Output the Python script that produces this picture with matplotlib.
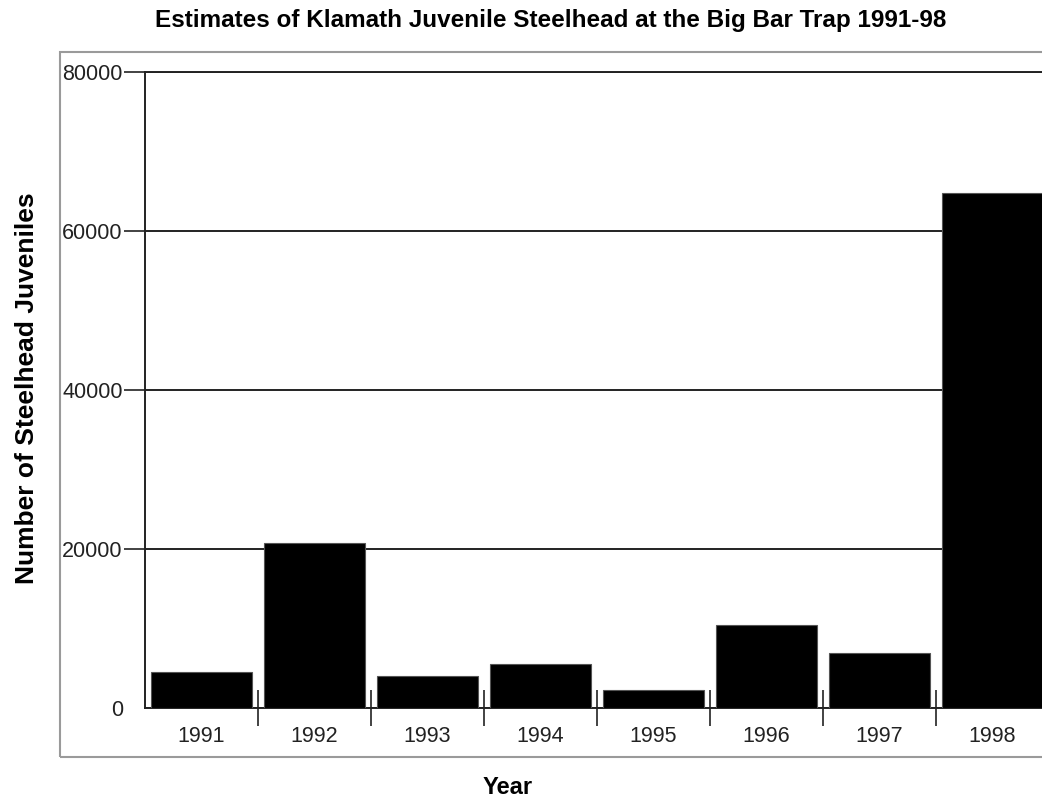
import numpy as np
import matplotlib.pyplot as plt
from matplotlib.patches import Rectangle

years = ['1991', '1992', '1993', '1994', '1995', '1996', '1997', '1998']
counts = [4500, 20800, 4000, 5500, 2300, 10500, 6900, 64800]

plt.rcParams['font.family'] = ['Liberation Sans', 'DejaVu Sans']

W, H = 1042, 801
fig = plt.figure(figsize=(W / 100, H / 100), dpi=100)

# gray outer frame (runs off the right edge like the original)
fig.patches.append(Rectangle((60 / W, 1 - 757 / H), 1.0, (757 - 52) / H,
                             transform=fig.transFigure, fill=False,
                             edgecolor='#9a9a9a', linewidth=1.5))

ax = fig.add_axes([145 / W, 1 - 708 / H, (1049 - 145) / W, (708 - 72) / H])

x = np.arange(len(years)) + 0.5
ax.bar(x, counts, width=0.885, color='black', edgecolor='#555555', linewidth=0.8, zorder=3)

ax.set_xlim(0, len(years))
ax.set_ylim(0, 80000)
ax.set_yticks([0, 20000, 40000, 60000, 80000])
ax.set_yticklabels(['0', '20000', '40000', '60000', '80000'])
ax.yaxis.grid(True, color='#222222', linewidth=1.4, zorder=1)

ax.set_xticks(x)
ax.set_xticklabels(years)
ax.set_xticks(np.arange(1, len(years)), minor=True)
ax.tick_params(axis='x', which='major', length=0, pad=13, labelsize=15.5, labelcolor='#222222')
ax.tick_params(axis='x', which='minor', direction='inout', length=26, width=1.2, color='#222222')
ax.tick_params(axis='y', length=15, width=1.2, pad=1, labelsize=15.5, labelcolor='#222222', color='#222222')
ax.yaxis.get_major_ticks()[0].tick1line.set_visible(False)

for s in ['left', 'bottom', 'top']:
    ax.spines[s].set_linewidth(1.4)
    ax.spines[s].set_color('#222222')
ax.spines['right'].set_visible(False)

fig.text(551 / W, 1 - 21 / H, 'Estimates of Klamath Juvenile Steelhead at the Big Bar Trap 1991-98',
         ha='center', va='center', fontsize=17.5, fontweight='bold')
fig.text(27 / W, 1 - 388 / H, 'Number of Steelhead Juveniles', rotation=90,
         ha='center', va='center', fontsize=19, fontweight='bold')
fig.text(508 / W, 1 - 787 / H, 'Year', ha='center', va='center', fontsize=17, fontweight='bold')

fig.savefig('out.png', dpi=100)
